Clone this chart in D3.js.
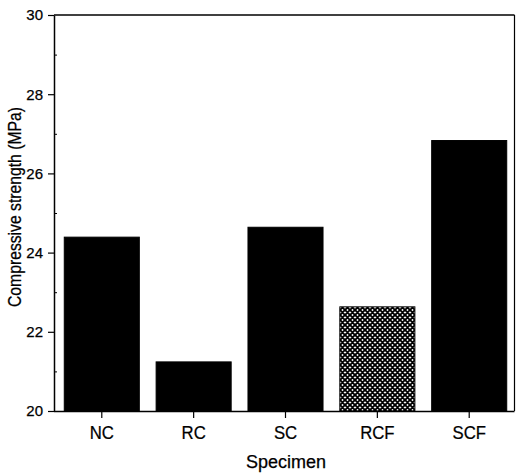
<!DOCTYPE html>
<html>
<head>
<meta charset="utf-8">
<script src="https://cdn.jsdelivr.net/npm/d3@7"></script>
<style>
  body { margin: 0; background: #fff; }
  svg { display: block; font-family: Arial, "Liberation Sans", sans-serif; }
  svg text { stroke: #000; stroke-width: 0.25px; }
</style>
</head>
<body>
<div id="chart"></div>
<script>
var specimens = ["NC", "RC", "SC", "RCF", "SCF"];
var strength = [24.39, 21.24, 24.64, 22.63, 26.83];
var hatched = [false, false, false, true, false];
var yTicks = [20, 22, 24, 26, 28, 30];
var yMinor = [21, 23, 25, 27, 29];

var width = 516, height = 475;
var axisX = 54, frameR = 514.5, plotTop = 15, base = 411;

var svg = d3.select("#chart").append("svg")
  .attr("width", width)
  .attr("height", height);

// crosshatch for the RCF bar
var pat = svg.append("defs").append("pattern")
  .attr("id", "hatch")
  .attr("patternUnits", "userSpaceOnUse")
  .attr("width", 5)
  .attr("height", 5);
pat.append("rect").attr("width", 5).attr("height", 5).attr("fill", "#fff");
pat.append("path")
  .attr("d", "M0,0L5,5M5,0L0,5M-1,4L1,6M4,-1L6,1M4,6L6,4M-1,1L1,-1")
  .attr("stroke", "#000")
  .attr("stroke-width", 1.9);

var x = d3.scaleBand()
  .domain(specimens)
  .range([56, 515])
  .paddingInner(0.183)
  .paddingOuter(0.09);

var y = d3.scaleLinear()
  .domain([20, 30])
  .range([base, plotTop]);

// bars
svg.selectAll(".bar")
  .data(specimens)
  .enter().append("rect")
  .attr("class", "bar")
  .attr("x", function(d) { return x(d); })
  .attr("width", x.bandwidth())
  .attr("y", function(d, i) { return y(strength[i]); })
  .attr("height", function(d, i) { return y(20) - y(strength[i]); })
  .attr("fill", function(d, i) { return hatched[i] ? "url(#hatch)" : "#000"; })
  .attr("stroke", "#000")
  .attr("stroke-width", 1);

// frame (top and right)
svg.append("line")
  .attr("x1", axisX).attr("x2", frameR)
  .attr("y1", plotTop).attr("y2", plotTop)
  .attr("stroke", "#000").attr("stroke-width", 1.5);
svg.append("line")
  .attr("x1", frameR).attr("x2", frameR)
  .attr("y1", plotTop).attr("y2", base)
  .attr("stroke", "#000").attr("stroke-width", 1.2);

// y axis
var yAxis = svg.append("g")
  .attr("transform", "translate(" + axisX + ",0)")
  .call(d3.axisLeft(y).tickValues(yTicks).tickSize(6).tickPadding(5).tickSizeOuter(0));
yAxis.select(".domain").attr("stroke-width", 1.5);
yAxis.selectAll(".tick line").attr("stroke-width", 1.2);
yAxis.selectAll("text").attr("font-size", 15).attr("fill", "#000")
  .attr("font-family", "Arial, 'Liberation Sans', sans-serif");

svg.append("g")
  .attr("transform", "translate(" + axisX + ",0)")
  .call(d3.axisRight(y).tickValues(yMinor).tickSize(3).tickFormat(""))
  .call(function(g) { g.select(".domain").remove(); });

// x axis
var xAxis = svg.append("g")
  .attr("transform", "translate(0," + base + ")")
  .call(d3.axisBottom(x).tickSize(7).tickFormat("").tickSizeOuter(0));
xAxis.select(".domain").attr("stroke-width", 1.5)
  .attr("d", "M" + axisX + ",0.5H" + frameR);
xAxis.selectAll(".tick line").attr("stroke-width", 1.2);

// x tick labels, tall narrow lettering like the scan
svg.selectAll(".xlab")
  .data(specimens)
  .enter().append("text")
  .attr("class", "xlab")
  .attr("transform", function(d) {
    return "translate(" + (x(d) + x.bandwidth() / 2) + ",439) scale(0.88,1)";
  })
  .attr("text-anchor", "middle")
  .attr("font-size", 19)
  .text(function(d) { return d; });

// axis titles
svg.append("text")
  .attr("x", 286)
  .attr("y", 468)
  .attr("text-anchor", "middle")
  .attr("font-size", 18)
  .text("Specimen");

svg.append("text")
  .attr("transform", "translate(21,207) rotate(-90) scale(0.85,1)")
  .attr("text-anchor", "middle")
  .attr("font-size", 18.5)
  .text("Compressive strength (MPa)");
</script>
</body>
</html>
